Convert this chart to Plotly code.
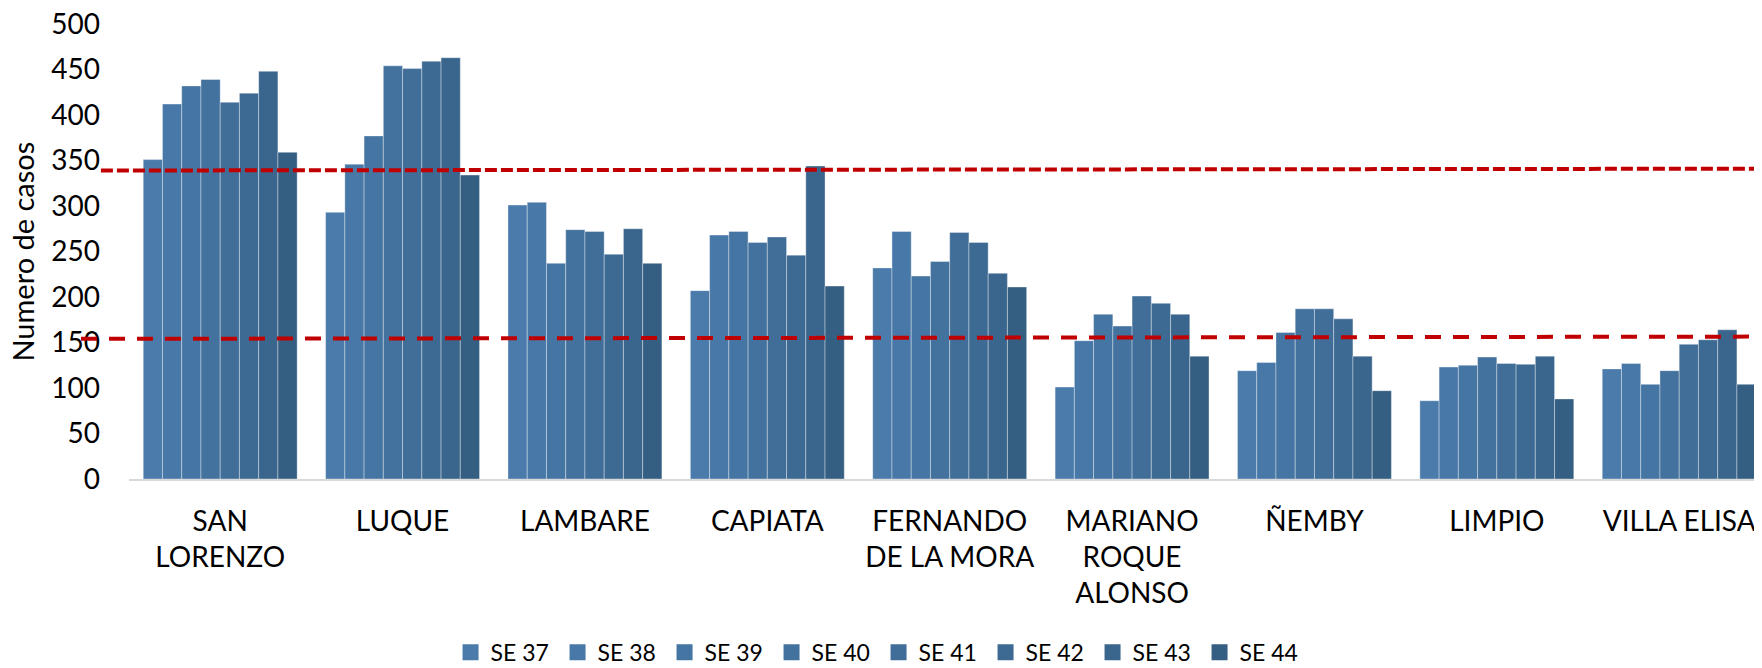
import plotly.graph_objects as go

categories = ["SAN<br>LORENZO", "LUQUE", "LAMBARE", "CAPIATA", "FERNANDO<br>DE LA MORA",
              "MARIANO<br>ROQUE<br>ALONSO", "ÑEMBY", "LIMPIO", "VILLA ELISA"]
series_names = ["SE 37", "SE 38", "SE 39", "SE 40", "SE 41", "SE 42", "SE 43", "SE 44"]

se37 = [351, 293, 301, 207, 232, 101, 119, 86, 121]
se38 = [412, 346, 304, 268, 272, 152, 128, 123, 127]
se39 = [432, 377, 237, 272, 223, 181, 161, 125, 104]
se40 = [439, 454, 274, 260, 239, 168, 187, 134, 119]
se41 = [414, 451, 272, 266, 271, 201, 187, 127, 148]
se42 = [424, 459, 247, 246, 260, 193, 176, 126, 153]
se43 = [448, 463, 275, 344, 226, 181, 135, 135, 164]
se44 = [359, 334, 237, 212, 211, 135, 97, 88, 104]
series_values = [se37, se38, se39, se40, se41, se42, se43, se44]

upper_line = [339, 341]   # left / right end values
lower_line = [154, 156.5]

colors = ["#4A7BAB", "#4878A8", "#4575A3", "#43729E", "#406E99", "#3D6A93", "#3A668D", "#355F82"]

FONT = "Lato"

fig = go.Figure()
for name, vals, col in zip(series_names, series_values, colors):
    fig.add_trace(go.Bar(
        x=list(range(len(categories))), y=vals, name=name, showlegend=False,
        marker=dict(color=col, line=dict(color="rgba(255,255,255,0.35)", width=1)),
    ))
# legend entries (square swatches like the reference)
for name, col in zip(series_names, colors):
    fig.add_trace(go.Scatter(
        x=[None], y=[None], name=name, mode="markers", showlegend=True,
        marker=dict(symbol="square", size=16, color=col),
    ))

fig.add_shape(type="line", xref="paper", yref="y", x0=-0.0172, x1=1.0,
              y0=upper_line[0], y1=upper_line[1],
              line=dict(color="#C00000", width=4, dash="12px,4px"))
fig.add_shape(type="line", xref="paper", yref="y", x0=-0.0294, x1=1.0,
              y0=lower_line[0], y1=lower_line[1],
              line=dict(color="#C00000", width=4, dash="16px,12px"))

fig.add_annotation(text="Numero de casos", xref="paper", yref="paper",
                   x=-0.0655, y=0.5, xanchor="center", yanchor="middle",
                   textangle=-90, showarrow=False,
                   font=dict(family=FONT, size=29, color="#000000"))

# page body has an 8px margin, so the figure is sized/offset to land on the window
fig.update_layout(
    width=1754, height=660,
    margin=dict(l=121, r=0, t=16, b=189, autoexpand=False),
    paper_bgcolor="white", plot_bgcolor="white",
    barmode="group", bargap=0.156, bargroupgap=0,
    font=dict(family=FONT, color="#000000"),
    showlegend=True,
    legend=dict(orientation="h", x=0.459, xanchor="center", y=-0.381, yanchor="middle",
                font=dict(family=FONT, size=23, color="#000000"),
                entrywidth=62, entrywidthmode="pixels", traceorder="normal",
                bgcolor="rgba(0,0,0,0)"),
    xaxis=dict(
        tickmode="array", tickvals=list(range(len(categories))), ticktext=categories,
        range=[-0.5, 8.454], showgrid=False, zeroline=False, automargin=False,
        showline=True, linecolor="#D9D9D9", linewidth=2,
        ticks="", ticklabelstandoff=16, ticklabeloverflow="allow",
        tickfont=dict(family=FONT, size=28, color="#000000"),
    ),
    yaxis=dict(
        range=[0, 500], tickvals=[0, 50, 100, 150, 200, 250, 300, 350, 400, 450, 500],
        showgrid=False, zeroline=False, showline=False, automargin=False,
        ticks="", ticklabelstandoff=28, ticklabeloverflow="allow",
        tickfont=dict(family=FONT, size=28, color="#000000"),
    ),
)

fig.write_html("out.html")
